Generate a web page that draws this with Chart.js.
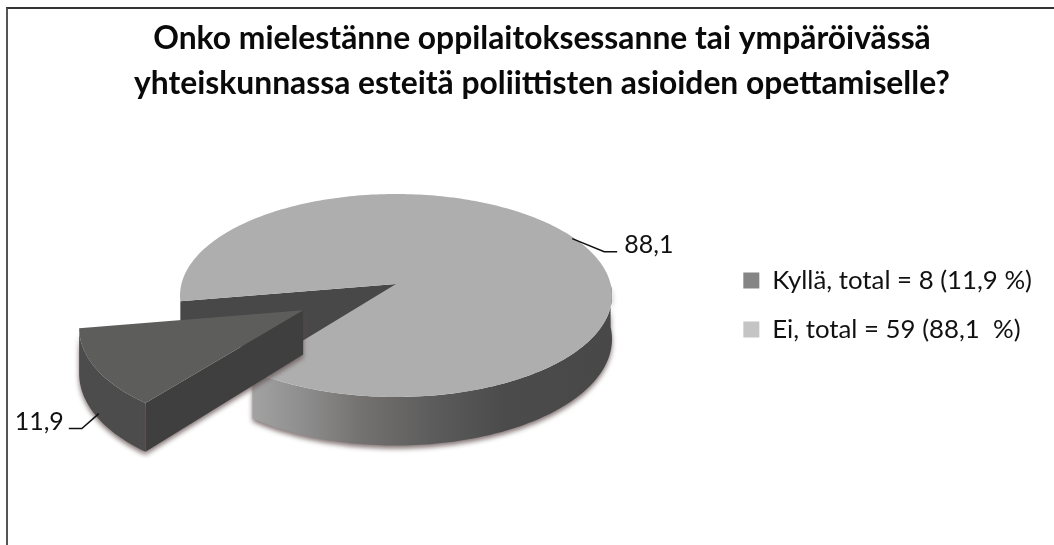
<!DOCTYPE html>
<html lang="fi">
<head>
<meta charset="utf-8">
<title>Esteet poliittisten asioiden opettamiselle</title>
<script src="https://cdn.jsdelivr.net/npm/chart.js@4/dist/chart.umd.min.js"></script>
<style>
    html, body { margin: 0; padding: 0; background: #fff; }
    #wrap { position: relative; width: 1054px; height: 545px; overflow: hidden; }
    #frame { position: absolute; left: 6px; top: 7px; width: 1048px; height: 538px; border-left: 2px solid #555; border-top: 2px solid #333; }
    canvas { position: absolute; left: 0; top: 0; }
</style>
</head>
<body>
<div id="wrap">
    <div id="frame"></div>
    <canvas id="pie" width="1054" height="545"></canvas>
</div>
<script>
// --- Data ---
const titleLines = [
    'Onko mielestänne oppilaitoksessanne tai ympäröivässä',
    'yhteiskunnassa esteitä poliittisten asioiden opettamiselle?'
];
const categories = ['Kyllä, total = 8 (11,9 %)', 'Ei, total = 59 (88,1  %)'];
const shares = [11.9, 88.1];
const legendColors = ['#858585', '#c4c4c4'];

// --- Look of the tilted pie ---
const FONT = 'Lato, Carlito, "Open Sans", sans-serif';
const PIE = { x: 396, y: 284, a: 214.6, b: 100.2, tilt: 0.1133, depth: 43 };
const topColors = ['#5d5d5b', '#aeaeae'];

// circle coordinates -> tilted picture coordinates
function project(u, v, drop) {
    const w = 1 - PIE.tilt * v;
    return { x: PIE.x + PIE.a * u / w, y: PIE.y + (PIE.b * v + (drop || 0)) / w };
}

// geometry of a slice, taken from the arc element that Chart.js laid out
function sliceInfo(arc) {
    const R = arc.outerRadius;
    const mid = (arc.startAngle + arc.endAngle) / 2;
    const off = (arc.options.offset || 0) / R;
    return { ox: Math.cos(mid) * off, oy: Math.sin(mid) * off, start: arc.startAngle, end: arc.endAngle, mid: mid };
}

function rimPoints(s, from, to, drop) {
    const pts = [];
    const n = Math.max(2, Math.ceil(Math.abs(to - from) / 0.02));
    for (let i = 0; i <= n; i++) {
        const t = from + (to - from) * i / n;
        pts.push(project(s.ox + Math.cos(t), s.oy + Math.sin(t), drop));
    }
    return pts;
}

function fillPoly(ctx, pts, fill) {
    ctx.beginPath();
    pts.forEach((p, i) => i ? ctx.lineTo(p.x, p.y) : ctx.moveTo(p.x, p.y));
    ctx.closePath();
    ctx.fillStyle = fill;
    ctx.fill();
}

// outer wall between two angles, only the part that faces the viewer
function drawWall(ctx, s, fill) {
    const from = Math.max(s.start, 0), to = Math.min(s.end, Math.PI);
    const lo = s.start > 2 * Math.PI ? s.start - 2 * Math.PI : from;
    const hi = s.end > 2 * Math.PI ? Math.min(s.end - 2 * Math.PI, Math.PI) : to;
    const top = rimPoints(s, lo, hi, 0);
    const bottom = rimPoints(s, hi, lo, PIE.depth);
    fillPoly(ctx, top.concat(bottom), fill);
}

const pie3d = {
    id: 'pie3d',
    beforeDatasetsDraw(chart) {
        const ctx = chart.ctx;
        const arcs = chart.getDatasetMeta(0).data;
        const small = sliceInfo(arcs[0]);
        const big = sliceInfo(arcs[1]);
        const apex = project(0, 0, 0);

        ctx.save();

        // main slice wall, light at the cut and dark towards the right
        const wallGrad = ctx.createLinearGradient(253, 0, 613, 0);
        wallGrad.addColorStop(0, '#a2a2a2');
        wallGrad.addColorStop(0.15, '#8c8c8c');
        wallGrad.addColorStop(0.3, '#747270');
        wallGrad.addColorStop(0.5, '#5c5c5c');
        wallGrad.addColorStop(0.7, '#4b4b4b');
        wallGrad.addColorStop(1, '#484848');
        ctx.shadowColor = 'rgba(90,70,70,0.75)';
        ctx.shadowBlur = 5;
        ctx.shadowOffsetY = 3;
        drawWall(ctx, { ox: 0, oy: 0, start: big.start - 2 * Math.PI, end: big.end - 2 * Math.PI }, wallGrad);

        // wall seen through the gap left by the pulled out slice
        ctx.shadowColor = 'transparent';
        const edgeA = rimPoints({ ox: 0, oy: 0 }, small.end, small.end, 0)[0];
        const edgeB = rimPoints({ ox: 0, oy: 0 }, small.start, small.start, 0)[0];
        const apexLow = project(0, 0, PIE.depth);
        const midLow = { x: (apexLow.x + edgeB.x) / 2 - 20, y: (apexLow.y + edgeB.y) / 2 };
        fillPoly(ctx, [apex, edgeA, { x: edgeA.x, y: edgeA.y + PIE.depth }, midLow, apexLow], '#484848');

        // main slice top face
        fillPoly(ctx, [apex].concat(rimPoints({ ox: 0, oy: 0 }, big.start, big.end, 0)), topColors[1]);

        // pulled out slice: outer wall, cut wall, top face
        ctx.shadowColor = 'rgba(90,70,70,0.75)';
        ctx.shadowBlur = 5;
        ctx.shadowOffsetY = 3;
        drawWall(ctx, small, '#4c4c4c');
        const tip = project(small.ox, small.oy, 0);
        const tipLow = project(small.ox, small.oy, PIE.depth);
        const cut = project(small.ox + Math.cos(small.start), small.oy + Math.sin(small.start), 0);
        const cutLow = project(small.ox + Math.cos(small.start), small.oy + Math.sin(small.start), PIE.depth);
        fillPoly(ctx, [tip, cut, cutLow, tipLow], '#3f3f3f');
        ctx.shadowColor = 'transparent';
        fillPoly(ctx, [tip].concat(rimPoints(small, small.start, small.end, 0)), topColors[0]);

        // value labels with their leader lines
        const bigAnchor = project(Math.cos(big.mid) * 0.967, Math.sin(big.mid) * 0.967, 0);
        const smallAnchor = project(small.ox + Math.cos(small.mid), small.oy + Math.sin(small.mid), PIE.depth);
        drawLabel(ctx, shares[1], { x: bigAnchor.x + 8, y: bigAnchor.y + 2 }, 32, 13, 45, 'left');
        drawLabel(ctx, shares[0], { x: smallAnchor.x + 3, y: smallAnchor.y - 2 }, -17, 15, -30, 'right');

        ctx.restore();
        return false; // faces are done, skip the flat arcs
    }
};

function drawLabel(ctx, value, from, dx, dy, endX, align) {
    ctx.beginPath();
    ctx.moveTo(from.x, from.y);
    ctx.lineTo(from.x + dx, from.y + dy);
    ctx.lineTo(from.x + endX, from.y + dy);
    ctx.strokeStyle = '#111';
    ctx.lineWidth = 1.5;
    ctx.stroke();
    ctx.fillStyle = '#111';
    ctx.font = '25px ' + FONT;
    ctx.textAlign = align;
    ctx.textBaseline = 'alphabetic';
    const gap = align === 'left' ? 7 : -5;
    ctx.fillText(value.toFixed(1).replace('.', ','), from.x + endX + gap, from.y + dy + 1);
}

new Chart(document.getElementById('pie'), {
    type: 'pie',
    data: {
        labels: categories,
        datasets: [{
            data: shares,
            backgroundColor: legendColors,
            borderWidth: 0,
            offset: [106, 0]
        }]
    },
    plugins: [pie3d],
    options: {
        responsive: false,
        animation: false,
        radius: 216,
        rotation: 217.5,
        layout: { padding: { left: 42, right: 12, top: 16, bottom: 51 } },
        plugins: {
            tooltip: { enabled: false },
            title: {
                display: true,
                text: titleLines,
                color: '#0a0a0a',
                font: { family: FONT, size: 31.8, weight: 'bold', lineHeight: 1.415 },
                padding: { top: 0, bottom: 10 }
            },
            legend: {
                position: 'right',
                fullSize: false,
                labels: {
                    color: '#111',
                    font: { family: FONT, size: 25.8 },
                    boxWidth: 16,
                    boxHeight: 16,
                    padding: 23.2
                }
            }
        }
    }
});
</script>
</body>
</html>
